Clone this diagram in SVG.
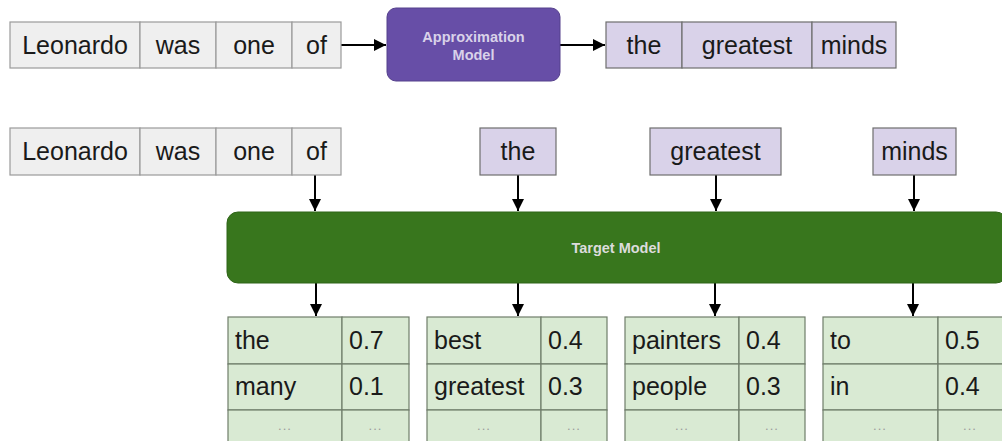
<svg xmlns="http://www.w3.org/2000/svg" width="1002" height="441" viewBox="0 0 1002 441">
<style>
.w{font-family:"Liberation Sans",Arial,sans-serif;font-size:25px;fill:#1a1a1a}
.c{text-anchor:middle}
.g{fill:#efefef;stroke:#9a9a9a;stroke-width:1.2}
.p{fill:#d9d2e9;stroke:#6e6e6e;stroke-width:1.2}
.t{fill:#d9ead3;stroke:#6f7d6a;stroke-width:1.2}
.d{font-family:"Liberation Sans",Arial,sans-serif;font-size:13px;letter-spacing:1px;fill:#9a9a9a;text-anchor:middle}
.m{font-family:"Liberation Sans",Arial,sans-serif;font-weight:bold;font-size:14.5px;text-anchor:middle}
.ln{stroke:#000;stroke-width:2;fill:none;marker-end:url(#ah)}
</style>
<defs>
<marker id="ah" markerWidth="12" markerHeight="12" refX="10" refY="5" orient="auto" markerUnits="userSpaceOnUse" viewBox="0 0 10 10">
<path d="M0,0 L10,5 L0,10 z" fill="#000"/>
</marker>
</defs>
<rect width="1002" height="441" fill="#fff"/>

<g id="connectors">
<line class="ln" x1="341" y1="45" x2="386" y2="45"/>
<line class="ln" x1="560" y1="45" x2="605" y2="45"/>
<line class="ln" x1="315" y1="175" x2="315" y2="211"/>
<line class="ln" x1="518" y1="175" x2="518" y2="211"/>
<line class="ln" x1="716" y1="175" x2="716" y2="211"/>
<line class="ln" x1="914" y1="175" x2="914" y2="211"/>
<line class="ln" x1="316" y1="283" x2="316" y2="316"/>
<line class="ln" x1="518" y1="283" x2="518" y2="316"/>
<line class="ln" x1="715" y1="283" x2="715" y2="316"/>
<line class="ln" x1="913" y1="283" x2="913" y2="316"/>
</g>

<g id="input-top">
<rect class="g" x="10" y="22" width="130" height="46"/>
<rect class="g" x="140" y="22" width="76" height="46"/>
<rect class="g" x="216" y="22" width="76" height="46"/>
<rect class="g" x="292" y="22" width="49" height="46"/>
<text class="w c" x="75" y="54">Leonardo</text>
<text class="w c" x="178" y="54">was</text>
<text class="w c" x="254" y="54">one</text>
<text class="w c" x="316.5" y="54">of</text>
</g>

<g id="approx-model">
<rect x="387" y="8" width="173" height="73" rx="9" fill="#674ea7" stroke="#55408c" stroke-width="1"/>
<text class="m" x="473.5" y="42" fill="#d9d2e9">Approximation</text>
<text class="m" x="473.5" y="60" fill="#d9d2e9">Model</text>
</g>

<g id="draft-top">
<rect class="p" x="606" y="22" width="76" height="46"/>
<rect class="p" x="682" y="22" width="130" height="46"/>
<rect class="p" x="812" y="22" width="84" height="46"/>
<text class="w c" x="644" y="54">the</text>
<text class="w c" x="747" y="54">greatest</text>
<text class="w c" x="854" y="54">minds</text>
</g>

<g id="input-bottom">
<rect class="g" x="10" y="128" width="130" height="47"/>
<rect class="g" x="140" y="128" width="76" height="47"/>
<rect class="g" x="216" y="128" width="76" height="47"/>
<rect class="g" x="292" y="128" width="49" height="47"/>
<text class="w c" x="75" y="160">Leonardo</text>
<text class="w c" x="178" y="160">was</text>
<text class="w c" x="254" y="160">one</text>
<text class="w c" x="316.5" y="160">of</text>
</g>

<g id="draft-the"><rect class="p" x="480" y="128" width="76" height="47"/><text class="w c" x="518" y="160">the</text></g>
<g id="draft-greatest"><rect class="p" x="650" y="128" width="131" height="47"/><text class="w c" x="715.5" y="160">greatest</text></g>
<g id="draft-minds"><rect class="p" x="873" y="128" width="83" height="47"/><text class="w c" x="914.5" y="160">minds</text></g>

<g id="target-model">
<rect x="227" y="212" width="780" height="71" rx="11" fill="#38761d" stroke="#2f6418" stroke-width="1"/>
<text class="m" x="616" y="253" fill="#dcdcdc">Target Model</text>
</g>

<g id="table-1">
<rect class="t" x="228" y="317" width="114" height="47"/><rect class="t" x="342" y="317" width="67" height="47"/>
<rect class="t" x="228" y="364" width="114" height="46"/><rect class="t" x="342" y="364" width="67" height="46"/>
<rect class="t" x="228" y="410" width="114" height="40"/><rect class="t" x="342" y="410" width="67" height="40"/>
<text class="w" x="235" y="349">the</text><text class="w" x="349" y="349">0.7</text>
<text class="w" x="235" y="395">many</text><text class="w" x="349" y="395">0.1</text>
<text class="d" x="285" y="430">...</text><text class="d" x="375.5" y="430">...</text>
</g>

<g id="table-2">
<rect class="t" x="427" y="317" width="114" height="47"/><rect class="t" x="541" y="317" width="66" height="47"/>
<rect class="t" x="427" y="364" width="114" height="46"/><rect class="t" x="541" y="364" width="66" height="46"/>
<rect class="t" x="427" y="410" width="114" height="40"/><rect class="t" x="541" y="410" width="66" height="40"/>
<text class="w" x="434" y="349">best</text><text class="w" x="548" y="349">0.4</text>
<text class="w" x="434" y="395">greatest</text><text class="w" x="548" y="395">0.3</text>
<text class="d" x="484" y="430">...</text><text class="d" x="574" y="430">...</text>
</g>

<g id="table-3">
<rect class="t" x="625" y="317" width="114" height="47"/><rect class="t" x="739" y="317" width="66" height="47"/>
<rect class="t" x="625" y="364" width="114" height="46"/><rect class="t" x="739" y="364" width="66" height="46"/>
<rect class="t" x="625" y="410" width="114" height="40"/><rect class="t" x="739" y="410" width="66" height="40"/>
<text class="w" x="632" y="349">painters</text><text class="w" x="746" y="349">0.4</text>
<text class="w" x="632" y="395">people</text><text class="w" x="746" y="395">0.3</text>
<text class="d" x="682" y="430">...</text><text class="d" x="772" y="430">...</text>
</g>

<g id="table-4">
<rect class="t" x="823" y="317" width="115" height="47"/><rect class="t" x="938" y="317" width="66" height="47"/>
<rect class="t" x="823" y="364" width="115" height="46"/><rect class="t" x="938" y="364" width="66" height="46"/>
<rect class="t" x="823" y="410" width="115" height="40"/><rect class="t" x="938" y="410" width="66" height="40"/>
<text class="w" x="830" y="349">to</text><text class="w" x="945" y="349">0.5</text>
<text class="w" x="830" y="395">in</text><text class="w" x="945" y="395">0.4</text>
<text class="d" x="880" y="430">...</text><text class="d" x="970" y="430">...</text>
</g>
</svg>
